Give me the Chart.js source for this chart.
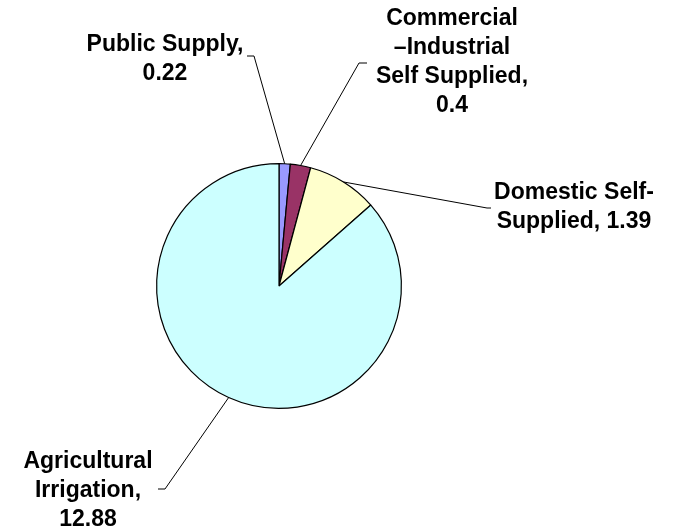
<!DOCTYPE html>
<html>
<head>
<meta charset="utf-8">
<script src="https://cdn.jsdelivr.net/npm/chart.js@4/dist/chart.umd.min.js"></script>
<style>
  html, body { margin: 0; padding: 0; background: #fff; }
  #wrap { width: 675px; height: 530px; }
</style>
</head>
<body>
<div id="wrap"><canvas id="myChart" width="675" height="530"></canvas></div>
<script>
// data
const categories = ['Public Supply', 'Commercial –Industrial Self Supplied', 'Domestic Self-Supplied', 'Agricultural Irrigation'];
const values = [0.22, 0.4, 1.39, 12.88];
const sliceColors = ['#9999FF', '#993366', '#FFFFCC', '#CCFFFF'];

// label text lines, as wrapped in the picture
const labelLines = [
    ['Public Supply,', '0.22'],
    ['Commercial', '–Industrial', 'Self Supplied,', '0.4'],
    ['Domestic Self-', 'Supplied, 1.39'],
    ['Agricultural', 'Irrigation,', '12.88']
];

// where each label sits and where its leader line bends
const labelPlace = [
    { x: 165, y: 45, elbow: [254, 56], end: [247, 56] },
    { x: 452, y: 19, elbow: [359, 63], end: [367, 63] },
    { x: 574, y: 193, elbow: [487, 208], end: [491, 208] },
    { x: 88, y: 462, elbow: [165, 489], end: [158, 489] }
];

const leaderLabels = {
    id: 'leaderLabels',
    afterDatasetsDraw(chart) {
        const ctx = chart.ctx;
        const arcs = chart.getDatasetMeta(0).data;
        ctx.save();
        ctx.strokeStyle = '#000';
        ctx.lineWidth = 1;
        arcs.forEach((arc, i) => {
            const p = labelPlace[i];
            const mid = (arc.startAngle + arc.endAngle) / 2;
            const ax = arc.x + Math.cos(mid) * arc.outerRadius;
            const ay = arc.y + Math.sin(mid) * arc.outerRadius;
            ctx.beginPath();
            ctx.moveTo(ax, ay);
            ctx.lineTo(p.elbow[0], p.elbow[1]);
            ctx.lineTo(p.end[0], p.end[1]);
            ctx.stroke();

            ctx.fillStyle = '#000';
            ctx.font = 'bold 23px "Liberation Sans", Arial, sans-serif';
            ctx.textAlign = 'center';
            ctx.textBaseline = 'middle';
            labelLines[i].forEach((line, k) => {
                ctx.fillText(line, p.x, p.y + k * 29);
            });
        });
        ctx.restore();
    }
};

const ctx = document.getElementById('myChart').getContext('2d');
new Chart(ctx, {
    type: 'pie',
    data: {
        labels: categories,
        datasets: [{
            data: values,
            backgroundColor: sliceColors,
            borderColor: '#000',
            borderWidth: 1.2
        }]
    },
    options: {
        responsive: false,
        animation: false,
        layout: { padding: { left: 156, right: 273, top: 162, bottom: 120 } },
        plugins: {
            legend: { display: false },
            tooltip: { enabled: false }
        }
    },
    plugins: [leaderLabels]
});
</script>
</body>
</html>
